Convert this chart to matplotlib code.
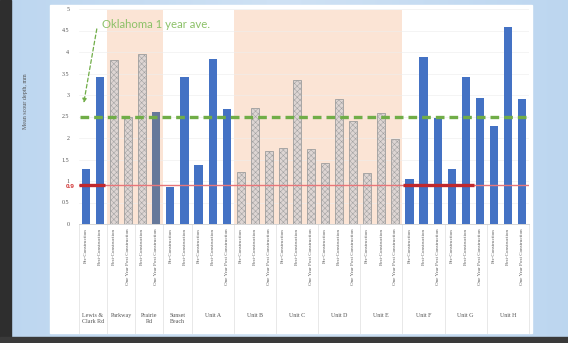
import numpy as np
import matplotlib
matplotlib.use("Agg")
import matplotlib.pyplot as plt
from matplotlib.patches import Rectangle
from matplotlib.transforms import blended_transform_factory

# --------------------------
# Data
# --------------------------
groups = ["Lewis &\nClark Rd", "Parkway", "Prairie\nRd", "Sunset\nBeach", "Unit A",
          "Unit B", "Unit C", "Unit D", "Unit E", "Unit F", "Unit G", "Unit H"]
group_bars = [
    ["Pre-Construction", "Post-Construction"],
    ["Post-Construction", "One Year Post Construction"],
    ["Post-Construction", "One Year Post Construction"],
    ["Pre-Construction", "Post-Construction"],
] + [["Pre-Construction", "Post-Construction", "One Year Post Construction"]] * 8
depths = [
    [1.29, 3.43],
    [3.81, 2.49],
    [3.95, 2.61],
    [0.85, 3.41],
    [1.37, 3.83, 2.67],
    [1.22, 2.70, 1.70],
    [1.77, 3.36, 1.74],
    [1.43, 2.90, 2.39],
    [1.19, 2.59, 1.98],
    [1.05, 3.88, 2.46],
    [1.28, 3.42, 2.94],
    [2.28, 4.59, 2.91],
]
shaded_groups = ["Parkway", "Prairie\nRd", "Unit B", "Unit C", "Unit D", "Unit E"]
oklahoma_ave = 2.5
threshold = 0.9

BLUE = "#4472C4"
SLATE = "#66789A"
HATCH_FACE = "#DDD5D3"
PEACH = "#FBE4D5"
GREEN = "#70AD47"

plt.rcParams["hatch.linewidth"] = 0.35
plt.rcParams["hatch.color"] = "#A59C9C"

W, H = 568, 343
fig = plt.figure(figsize=(W / 100, H / 100), dpi=100)

# --------------------------
# Slide background
# --------------------------
bg = fig.add_axes([0, 0, 1, 1])
bg.set_axis_off()
xx = np.linspace(0, 1, 200)
grad = 0.55 + 0.45 * np.abs(xx - 0.5) * 2
img = np.zeros((2, 200, 3))
light = np.array([0.90, 0.94, 0.98])
blue = np.array([0.74, 0.84, 0.94])
for i in range(200):
    img[:, i] = light + (blue - light) * grad[i]
bg.imshow(img, extent=[0, 1, 0, 1], aspect="auto")
bg.add_patch(Rectangle((0, 0), 11 / W, 1, color="#2E2E2E"))
bg.add_patch(Rectangle((0, 0), 1, 6 / H, color="#3A3A3A"))
bg.add_patch(Rectangle((50 / W, 1 - 333 / H), 482 / W, 328 / H, color="white"))
bg.set_xlim(0, 1)
bg.set_ylim(0, 1)

# --------------------------
# Chart
# --------------------------
ax = fig.add_axes([79 / W, 1 - 224 / H, 450 / W, 215 / H])
ax.set_facecolor("none")

labels, values, owner = [], [], []
for g, names, vals in zip(groups, group_bars, depths):
    labels += names
    values += vals
    owner += [g] * len(vals)

# shaded regions
start = 0
for g, vals in zip(groups, depths):
    if g in shaded_groups:
        ax.axvspan(start - 0.5, start + len(vals) - 0.5, ymax=0.995, color=PEACH, lw=0, zorder=0)
    start += len(vals)

for v in np.arange(0.5, 5.01, 0.5):
    ax.axhline(v, color="#EDEDED", lw=0.5, zorder=0.5, alpha=0.8)

for i, (v, g, lab) in enumerate(zip(values, owner, labels)):
    if g == "Prairie\nRd" and lab.startswith("One"):
        ax.bar(i, v, 0.58, color=SLATE, zorder=2)
    elif g in shaded_groups:
        ax.bar(i, v, 0.58, facecolor=HATCH_FACE, edgecolor="#9E9E9E", hatch="xxxxxx",
               lw=0.6, zorder=2)
    else:
        ax.bar(i, v, 0.58, color=BLUE, zorder=2)

# 0.9 threshold line
ax.axhline(threshold, color="#E8767A", lw=1.0, zorder=3)
ax.plot([-0.5, 1.35], [threshold, threshold], color="#C0282D", lw=2.4, zorder=4,
        solid_capstyle="butt")
ax.plot([22.55, 27.6], [threshold, threshold], color="#C0282D", lw=2.4, zorder=4,
        solid_capstyle="butt")

# Oklahoma average
ax.plot([-0.45, len(values) - 0.5], [oklahoma_ave, oklahoma_ave], color=GREEN, lw=2.4,
        ls=(0, (2.6, 1.5)), zorder=5)
ax.annotate("", xy=(-0.2, 2.75), xytext=(0.8, 4.6),
            arrowprops=dict(arrowstyle="-|>", color=GREEN, lw=0.9, ls=(0, (3, 2)),
                            mutation_scale=6), zorder=6)
ax.text(1.1, 4.65, "Oklahoma 1 year ave.", color="#8CC168", fontsize=8.2,
        family="Lato", va="center", ha="left")

ax.set_xlim(-0.5, len(values) - 0.5)
ax.set_ylim(0, 5)
ax.set_yticks(np.arange(0, 5.01, 0.5))
ax.set_yticklabels(["0", "0.5", "1", "1.5", "2", "2.5", "3", "3.5", "4", "4.5", "5"])
ax.tick_params(axis="y", length=0, pad=7, labelsize=4.3, labelcolor="#555555")
for t in ax.get_yticklabels():
    t.set_family("Liberation Serif")
ax.text(-0.78, threshold - 0.02, "0.9", fontsize=4.6, family="Liberation Sans",
        color="#D03030", ha="right", va="center", fontweight="bold")
ax.set_xticks([])
for s in ["top", "right", "left"]:
    ax.spines[s].set_visible(False)
ax.spines["bottom"].set_color("#D0D0D0")
ax.spines["bottom"].set_linewidth(0.6)

ax.text(-0.12, 0.57, "Mean scour depth, mm", transform=ax.transAxes, rotation=90,
        fontsize=4.3, family="Liberation Serif", color="#555555", ha="center", va="center")

# category labels
tr = blended_transform_factory(ax.transData, ax.transAxes)
for i, lab in enumerate(labels):
    ax.text(i, -0.02, lab, transform=tr, rotation=90, ha="center", va="top",
            fontsize=3.6, family="Liberation Serif", color="#555555")

start = 0
for g, vals in zip(groups, depths):
    n = len(vals)
    ax.plot([start - 0.5, start - 0.5], [0, -0.505], transform=tr, color="#E4E4E4",
            lw=0.6, clip_on=False)
    ax.text(start + (n - 1) / 2, -0.415, g, transform=tr, ha="center", va="top",
            fontsize=4.3, family="Liberation Serif", color="#555555", linespacing=1.1)
    start += n
ax.plot([start - 0.5, start - 0.5], [0, -0.505], transform=tr, color="#E4E4E4",
        lw=0.6, clip_on=False)

fig.savefig("out.png", dpi=100)
